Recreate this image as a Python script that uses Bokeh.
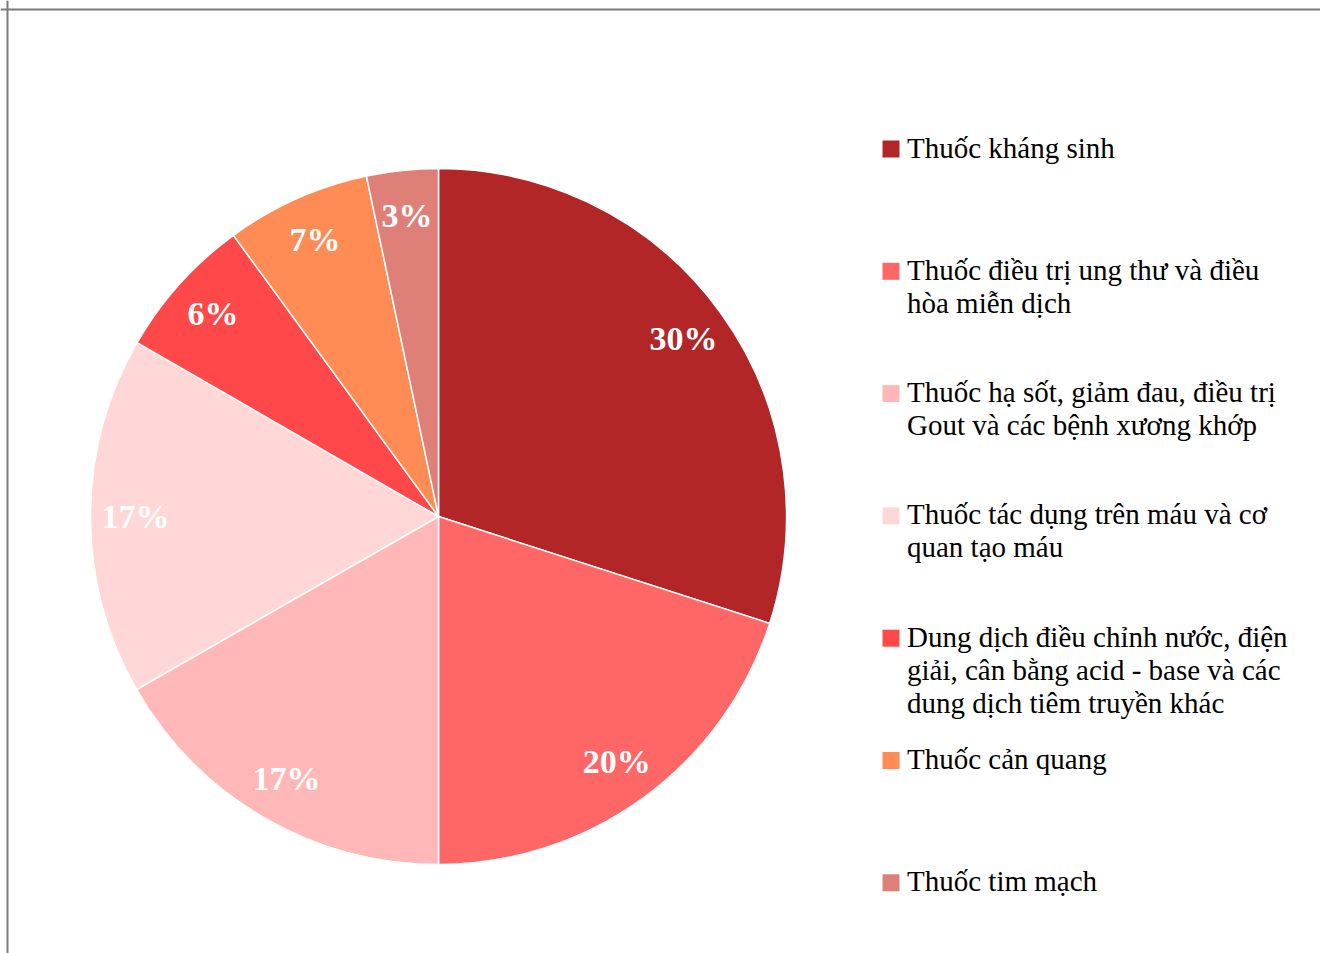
import numpy as np
import pandas as pd
from bokeh.plotting import figure
from bokeh.models import ColumnDataSource, Range1d, Span
from bokeh.core.properties import value
from bokeh.embed import file_html
from bokeh.resources import INLINE

# ---- data ----
categories = [
    "Thuốc kháng sinh",
    "Thuốc điều trị ung thư và điều\nhòa miễn dịch",
    "Thuốc hạ sốt, giảm đau, điều trị\nGout và các bệnh xương khớp",
    "Thuốc tác dụng trên máu và cơ\nquan tạo máu",
    "Dung dịch điều chỉnh nước, điện\ngiải, cân bằng acid - base và các\ndung dịch tiêm truyền khác",
    "Thuốc cản quang",
    "Thuốc tim mạch",
]
# slice sizes (percent)
shares = [29.97, 20.03, 16.72, 16.61, 6.64, 6.71, 3.32]
# data labels as printed on the chart
share_labels = ["30%", "20%", "17%", "17%", "6%", "7%", "3%"]
colors = ["#B22628", "#FF6666", "#FFB7B7", "#FFD7D7", "#FF484A", "#FF8C55", "#DE7F78"]

# ---- layout ----
W, H = 1320, 953
cx, cy, R = 438, 437, 348
label_r = 303

df = pd.DataFrame({"cat": categories, "share": shares, "color": colors,
                   "label": share_labels})
frac = df["share"] / df["share"].sum()
cum = frac.cumsum()
df["start"] = np.pi / 2 - 2 * np.pi * (cum - frac)
df["end"] = np.pi / 2 - 2 * np.pi * cum
mid = (df["start"] + df["end"]) / 2
df["lx"] = cx + label_r * np.cos(mid)
df["ly"] = cy + label_r * np.sin(mid)
df["cx"] = cx
df["cy"] = cy

src = ColumnDataSource(df)

p = figure(width=W, height=H, output_backend="svg", toolbar_location=None,
           x_range=Range1d(0, W), y_range=Range1d(0, H), min_border=0,
           outline_line_color=None, background_fill_color="white",
           border_fill_color="white")
p.axis.visible = False
p.grid.visible = False

p.wedge(x="cx", y="cy", radius=R, start_angle="start", end_angle="end",
        direction="clock", fill_color="color", line_color="white",
        line_width=1.5, source=src)

p.text(x="lx", y="ly", text="label", source=src, text_color="white",
       text_font=value("Liberation Serif"), text_font_style="bold",
       text_font_size="34px", text_align="center", text_baseline="middle")

# ---- legend (manual) ----
leg_x, leg_y0, leg_step, line_h = 890.5, 804.5, 122.3, 33.0
sq_x, sq_y, sq_c = [], [], []
tx, ty, tt = [], [], []
for i, (c, col) in enumerate(zip(categories, colors)):
    y = leg_y0 - i * leg_step
    sq_x.append(leg_x)
    sq_y.append(y)
    sq_c.append(col)
    for j, line in enumerate(c.split("\n")):
        tx.append(leg_x + 16)
        ty.append(y + 1.5 - j * line_h)
        tt.append(line)

p.scatter(x=sq_x, y=sq_y, marker="square", size=17, fill_color=sq_c,
          line_color=None)
p.text(x=tx, y=ty, text=tt, text_color="black",
       text_font=value("Liberation Serif"), text_font_size="29px",
       text_align="left", text_baseline="middle")

# ---- chart frame (left/top edges visible) ----
p.add_layout(Span(location=7, dimension="height", line_color="#7a7a7a", line_width=2))
p.add_layout(Span(location=944, dimension="width", line_color="#7a7a7a", line_width=2))

open("out.html", "w").write(file_html(p, INLINE))
